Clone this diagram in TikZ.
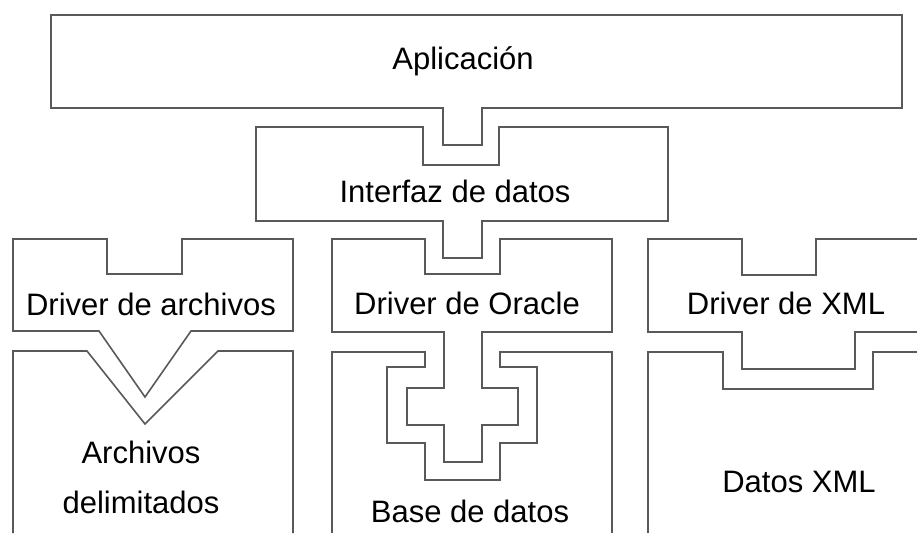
\documentclass[tikz,border=0pt]{standalone}
\usepackage{fontspec}
\setmainfont{Liberation Sans}
\begin{document}
\begin{tikzpicture}[x=1pt,y=-1pt,every node/.style={text centered,anchor=base,inner sep=0pt,font=\fontsize{31}{50}\selectfont},blk/.style={draw=black!65,line width=1.6pt}]

\useasboundingbox (0,0) rectangle (917,533);

% application and data interface
\draw[blk] (51,15) -- (902,15) -- (902,108) -- (482,108) -- (482,145) -- (443,145) -- (443,108) -- (51,108) -- cycle;
\node (apl) at (463,69) {Aplicación};

\draw[blk] (256,127) -- (423,127) -- (423,165) -- (499,165) -- (499,127) -- (668,127) -- (668,221) -- (482,221) -- (482,258) -- (443,258) -- (443,221) -- (256,221) -- cycle;
\node (ifz) at (455,202) {Interfaz de datos};

%%%left
\draw[blk] (13,239) -- (107,239) -- (107,274) -- (182,274) -- (182,239) -- (293,239) -- (293,331) -- (191,331) -- (145,397) -- (99,331) -- (13,331) -- cycle;
\node (drva) at (151,315) {Driver de archivos};

\draw[blk] (13,533) -- (13,351) -- (87,351) -- (145,424) -- (218,351) -- (293,351) -- (293,533);
\node[align=center] (arch) at (141,513) {Archivos\\delimitados};

%%%middle
\draw[blk] (332,239) -- (425,239) -- (425,274) -- (500,274) -- (500,239) -- (612,239) -- (612,332) -- (482,332) -- (482,388) -- (518,388) -- (518,425) -- (482,425) -- (482,462) -- (444,462) -- (444,425) -- (407,425) -- (407,388) -- (444,388) -- (444,332) -- (332,332) -- cycle;
\node (drvo) at (467,314) {Driver de Oracle};

\draw[blk] (332,533) -- (332,352) -- (425,352) -- (425,367) -- (387,367) -- (387,443) -- (425,443) -- (425,480) -- (500,480) -- (500,443) -- (537,443) -- (537,367) -- (500,367) -- (500,352) -- (612,352) -- (612,533);
\node (bd) at (470,522) {Base de datos};

%%%right
\draw[blk] (917,239) -- (816,239) -- (816,275) -- (742,275) -- (742,239) -- (648,239) -- (648,332) -- (742,332) -- (742,369) -- (855,369) -- (855,332) -- (917,332);
\node (drvx) at (786,314) {Driver de XML};

\draw[blk] (648,533) -- (648,352) -- (723,352) -- (723,389) -- (873,389) -- (873,352) -- (917,352);
\node (xml) at (799,492) {Datos XML};

\end{tikzpicture}
\end{document}
